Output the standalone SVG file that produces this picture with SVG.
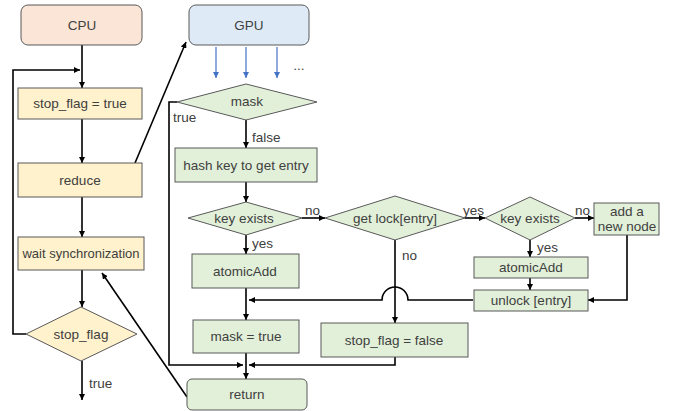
<svg xmlns="http://www.w3.org/2000/svg" width="680" height="411" viewBox="0 0 680 411">
<defs>
<marker id="ah" markerUnits="userSpaceOnUse" markerWidth="7" markerHeight="6" refX="6" refY="3" orient="auto"><path d="M0,0 L6,3 L0,6 z" fill="#000"/></marker>
<marker id="ahb" markerUnits="userSpaceOnUse" markerWidth="7" markerHeight="6" refX="6" refY="3" orient="auto"><path d="M0,0 L6,3 L0,6 z" fill="#4472C4"/></marker>
<style>
text{font-family:"Liberation Sans","Noto Sans",sans-serif;font-size:13.5px;fill:#404040}
.c{text-anchor:middle}
.y{fill:#FFF2CC;stroke:#595959;stroke-width:1}
.g{fill:#E2F0D9;stroke:#595959;stroke-width:1}
.k{fill:none;stroke:#000;stroke-width:1.6;marker-end:url(#ah)}
.n{fill:none;stroke:#000;stroke-width:1.6}
.b{fill:none;stroke:#4472C4;stroke-width:1.2;marker-end:url(#ahb)}
</style>
</defs>
<g id="connectors">
<path class="k" d="M82,45 V88"/>
<path class="k" d="M26,334 H13 V70 H80"/>
<path class="k" d="M82,119 V163"/>
<path class="k" d="M82,197 V237"/>
<path class="k" d="M82,270 V307"/>
<path class="k" d="M82,361 V400"/>
<path class="k" d="M135,163 L186,42"/>
<path class="k" d="M187,397 L102,273"/>
<path class="b" d="M216,47 V78"/>
<path class="b" d="M246,47 V78"/>
<path class="b" d="M277,47 V78"/>
<path class="k" d="M177,102 H169 V365 H243"/>
<path class="k" d="M246,120 V148"/>
<path class="k" d="M246,182 V202"/>
<path class="k" d="M302,218 H325"/>
<path class="k" d="M246,235 V254"/>
<path class="k" d="M246,288 V320"/>
<path class="k" d="M246,353 V379"/>
<path class="k" d="M395,240 V323"/>
<path class="k" d="M395,357 V365 H249"/>
<path class="k" d="M465,218 H485"/>
<path class="k" d="M575,218 H594"/>
<path class="k" d="M530,240 V257"/>
<path class="k" d="M530,278 V290"/>
<path class="k" d="M627,235 V300 H588"/>
<path class="k" d="M473,300 H408 A13,13 0 0 0 382,300 H249"/>
<text x="299" y="70" class="c">...</text>
<text x="89" y="388">true</text>
<text x="173" y="122">true</text>
<text x="252" y="142">false</text>
<text x="305" y="215">no</text>
<text x="252" y="248">yes</text>
<text x="402" y="260">no</text>
<text x="463" y="215">yes</text>
<text x="575" y="215">no</text>
<text x="537" y="252">yes</text>
</g>
<g id="cpu"><rect x="21" y="5" width="121" height="40" rx="7" fill="#FBE5D6" stroke="#595959"/><text x="82" y="30" class="c">CPU</text></g>
<g id="stop_flag_true"><rect class="y" x="18" y="88" width="124" height="31"/><text x="80" y="108" class="c">stop_flag = true</text></g>
<g id="reduce"><rect class="y" x="18" y="163" width="124" height="34"/><text x="80" y="185" class="c">reduce</text></g>
<g id="wait_sync"><rect class="y" x="18" y="237" width="126" height="33"/><text x="81" y="258" class="c" style="font-size:13px">wait synchronization</text></g>
<g id="stop_flag_dec"><polygon class="y" points="26,334 81,307 137,334 81,361"/><text x="81" y="339" class="c">stop_flag</text></g>
<g id="gpu"><rect x="189" y="5" width="120" height="40" rx="7" fill="#DEEBF7" stroke="#595959"/><text x="249" y="30" class="c">GPU</text></g>
<g id="mask"><polygon class="g" points="177,102 246,84 317,102 246,120"/><text x="247" y="106" class="c">mask</text></g>
<g id="hash"><rect class="g" x="175" y="148" width="142" height="34"/><text x="246" y="170" class="c">hash key to get entry</text></g>
<g id="key_exists1"><polygon class="g" points="188,218 246,202 302,218 246,235"/><text x="244" y="223" class="c">key exists</text></g>
<g id="atomicAdd1"><rect class="g" x="192" y="254" width="107" height="34"/><text x="245" y="276" class="c">atomicAdd</text></g>
<g id="mask_true"><rect class="g" x="193" y="320" width="106" height="33"/><text x="246" y="341" class="c">mask = true</text></g>
<g id="return"><rect class="g" x="187" y="379" width="120" height="31" rx="5"/><text x="247" y="399" class="c">return</text></g>
<g id="get_lock"><polygon class="g" points="325,218 395,196 465,218 395,240"/><text x="395" y="223" class="c">get lock[entry]</text></g>
<g id="stop_flag_false"><rect class="g" x="321" y="323" width="147" height="34"/><text x="394" y="345" class="c">stop_flag = false</text></g>
<g id="key_exists2"><polygon class="g" points="485,218 530,197 575,218 530,240"/><text x="530" y="223" class="c">key exists</text></g>
<g id="add_node"><rect class="g" x="594" y="203" width="65" height="32"/><text x="627" y="216" class="c">add a</text><text x="627" y="231" class="c">new node</text></g>
<g id="atomicAdd2"><rect class="g" x="474" y="257" width="114" height="21"/><text x="531" y="272" class="c">atomicAdd</text></g>
<g id="unlock"><rect class="g" x="474" y="290" width="114" height="21"/><text x="531" y="305" class="c">unlock [entry]</text></g>
</svg>
